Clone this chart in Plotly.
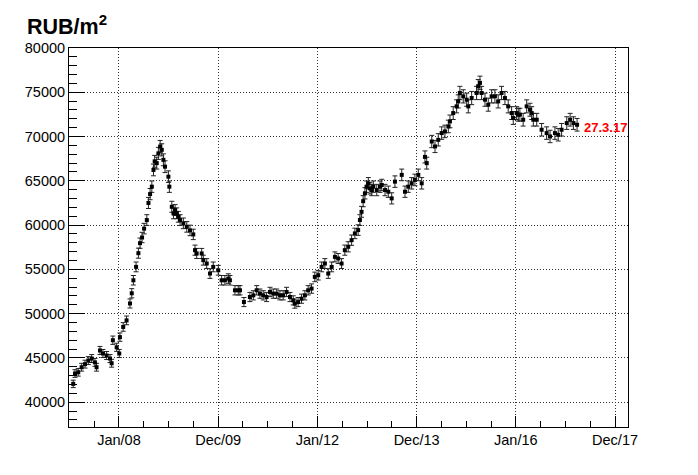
from datetime import datetime, timedelta
import plotly.graph_objects as go

# ---- data ----
dates = [
    "2007-01-29", "2007-02-11", "2007-03-07", "2007-04-01", "2007-04-26", "2007-05-20",
    "2007-06-14", "2007-07-08", "2007-07-20", "2007-08-14", "2007-09-05", "2007-10-02",
    "2007-10-27", "2007-11-08", "2007-11-17", "2007-12-15", "2008-01-03", "2008-01-08",
    "2008-02-01", "2008-02-26", "2008-03-22", "2008-04-04", "2008-04-16", "2008-05-06",
    "2008-05-23", "2008-06-04", "2008-06-19", "2008-07-04", "2008-07-24", "2008-08-05",
    "2008-08-17", "2008-08-30", "2008-09-11", "2008-09-20", "2008-10-05", "2008-10-17",
    "2008-10-30", "2008-11-11", "2008-11-23", "2008-12-05", "2008-12-30", "2009-01-06",
    "2009-01-24", "2009-02-05", "2009-02-17", "2009-03-01", "2009-03-13", "2009-03-26",
    "2009-04-19", "2009-05-14", "2009-06-07", "2009-07-01", "2009-07-14", "2009-07-26",
    "2009-09-01", "2009-09-13", "2009-10-08", "2009-11-01", "2009-11-25", "2010-01-01",
    "2010-01-26", "2010-02-19", "2010-03-16", "2010-03-28", "2010-05-04", "2010-05-28",
    "2010-06-10", "2010-07-09", "2010-08-22", "2010-09-16", "2010-10-11", "2010-11-04",
    "2010-11-28", "2010-12-23", "2011-01-17", "2011-02-10", "2011-03-07", "2011-03-31",
    "2011-04-24", "2011-05-19", "2011-06-13", "2011-07-07", "2011-07-19", "2011-08-12",
    "2011-09-06", "2011-10-01", "2011-10-25", "2011-11-19", "2011-12-13", "2012-01-07",
    "2012-02-01", "2012-02-25", "2012-03-21", "2012-04-15", "2012-05-09", "2012-06-02",
    "2012-06-27", "2012-07-21", "2012-08-15", "2012-09-09", "2012-10-03", "2012-10-27",
    "2012-11-09", "2012-11-21", "2012-12-03", "2012-12-16", "2012-12-28", "2013-01-10",
    "2013-01-22", "2013-02-04", "2013-02-16", "2013-03-13", "2013-04-06", "2013-04-19",
    "2013-05-13", "2013-06-06", "2013-07-01", "2013-07-25", "2013-09-13", "2013-10-07",
    "2013-10-31", "2013-11-25", "2013-12-19", "2014-01-13", "2014-02-07", "2014-03-03",
    "2014-03-16", "2014-04-22", "2014-05-16", "2014-06-09", "2014-07-04", "2014-07-28",
    "2014-08-22", "2014-09-03", "2014-09-27", "2014-10-22", "2014-11-03", "2014-11-15",
    "2014-12-10", "2015-01-04", "2015-01-16", "2015-02-10", "2015-03-18", "2015-03-30",
    "2015-04-12", "2015-04-24", "2015-05-19", "2015-06-12", "2015-07-07", "2015-07-31",
    "2015-08-24", "2015-09-18", "2015-10-13", "2015-11-06", "2015-12-01", "2015-12-13",
    "2016-01-07", "2016-01-19", "2016-01-31", "2016-02-24", "2016-03-21", "2016-04-14",
    "2016-04-27", "2016-05-09", "2016-06-03", "2016-07-09", "2016-08-15", "2016-09-09",
    "2016-10-15", "2016-11-08", "2016-12-03", "2017-01-10", "2017-02-04", "2017-02-28",
    "2017-03-27",
]
prices = [
    42070, 43240, 43380, 43950, 44300, 44700,
    44930, 44500, 43950, 45840, 45500, 45270,
    44930, 44400, 47000, 46200, 45500, 47350,
    48500, 49240, 51150, 52300, 53770, 55280,
    56830, 57960, 58600, 59600, 60570, 62500,
    63500, 64340, 66230, 67200, 67000, 68100,
    68870, 68500, 67370, 66600, 65470, 64340,
    62070, 61330, 61700, 61330, 60940, 60570,
    60200, 59800, 59400, 58950, 57170, 56800,
    56800, 56040, 55660, 54530, 55280, 54900,
    53770, 53770, 53960, 53770, 52640, 52640,
    52640, 51310, 51880, 52070, 52640, 52260,
    52070, 51880, 52450, 52260, 52260, 52070,
    52070, 52450, 51880, 51500, 51130, 51310,
    51690, 52070, 52640, 52830, 54150, 54340,
    55280, 55660, 54530, 55280, 56410, 56230,
    55660, 57170, 57550, 58300, 59060, 59440,
    60570, 61500, 62700, 63590, 64340, 64720,
    64150, 63960, 64340, 63960, 64340, 64530,
    63960, 63770, 63020, 64910, 65670, 63770,
    64340, 64720, 65100, 65670, 64720, 67700,
    67000, 69440, 68880, 69630, 70390, 70580,
    71140, 71710, 72650, 73410, 73970, 74920,
    74540, 74160, 73410, 74350, 74920, 75680,
    76060, 74920, 74160, 73600, 74540, 74540,
    73970, 74920, 74350, 73410, 72650, 72090,
    72650, 72470, 72470, 71900, 73410, 73030,
    72650, 71900, 71900, 70770, 70390, 70010,
    70390, 70200, 70770, 71520, 71900, 71520,
    71330,
]
error_percent = 1.0

y_ticks = [40000, 45000, 50000, 55000, 60000, 65000, 70000, 75000, 80000]
x_tick_labels = ["Jan/08", "Dec/09", "Jan/12", "Dec/13", "Jan/16", "Dec/17"]
y_title = "RUB/m<sup>2</sup>"
last_label = "27.3.17"

# ---- axis tick positions (ROOT-style time axis: 730.5-day steps) ----
tick0 = datetime(2008, 1, 1)
step = timedelta(days=730.5)
x_tickvals = [tick0 + k * step for k in range(len(x_tick_labels))]
x_minor = [tick0 + k * step / 4 for k in range(-2, 22)]
x_range = [tick0 - timedelta(days=368), tick0 + timedelta(days=3748)]

FONT = "Liberation Sans, Arial, Helvetica, sans-serif"
GRID_DASH = "1px,2px"

fig = go.Figure()
fig.add_trace(go.Scatter(
    x=dates, y=prices, mode="markers",
    marker=dict(symbol="square", size=4, color="black"),
    error_y=dict(type="percent", value=error_percent, color="#222222",
                 thickness=1, width=2.5),
    showlegend=False,
))

fig.add_annotation(
    x=dates[-1], y=prices[-1], xref="x", yref="y",
    text=last_label, showarrow=False, xanchor="left", yanchor="middle",
    xshift=5, yshift=-3,
    font=dict(family=FONT, size=13, color="#ff0000", weight="bold"),
)
fig.add_annotation(
    x=-0.079, y=1.06, xref="paper", yref="paper",
    text=f"<b>{y_title}</b>", showarrow=False, xanchor="left", yanchor="middle",
    font=dict(family=FONT, size=21.5, color="black"),
)

fig.update_layout(
    width=698, height=475,
    margin=dict(l=69, r=70, t=48, b=48, pad=0),
    paper_bgcolor="white", plot_bgcolor="white",
    font=dict(family=FONT, size=14.5, color="black"),
    xaxis=dict(
        type="date", range=x_range,
        tickmode="array", tickvals=x_tickvals, ticktext=x_tick_labels,
        ticks="inside", ticklen=11, tickwidth=1, tickcolor="black",
        showline=True, linecolor="black", linewidth=1, mirror=True,
        showgrid=True, gridcolor="#333333", griddash=GRID_DASH, gridwidth=1,
        zeroline=False,
        minor=dict(tickmode="array", tickvals=x_minor, ticks="inside",
                   ticklen=6, tickwidth=1, tickcolor="black", showgrid=False),
        tickfont=dict(size=14.5),
    ),
    yaxis=dict(
        range=[37200, 80000],
        tickmode="array", tickvals=y_ticks, ticktext=[str(v) for v in y_ticks],
        ticks="inside", ticklen=16, tickwidth=1, tickcolor="black",
        showline=True, linecolor="black", linewidth=1, mirror=True,
        showgrid=True, gridcolor="#333333", griddash=GRID_DASH, gridwidth=1,
        zeroline=False,
        minor=dict(dtick=1000, tick0=0, ticks="inside", ticklen=8,
                   tickwidth=1, tickcolor="black", showgrid=False),
        tickfont=dict(size=14.5),
    ),
)

fig.write_html("out.html", config={"displayModeBar": False},
               post_script="document.body.style.margin='0';")
